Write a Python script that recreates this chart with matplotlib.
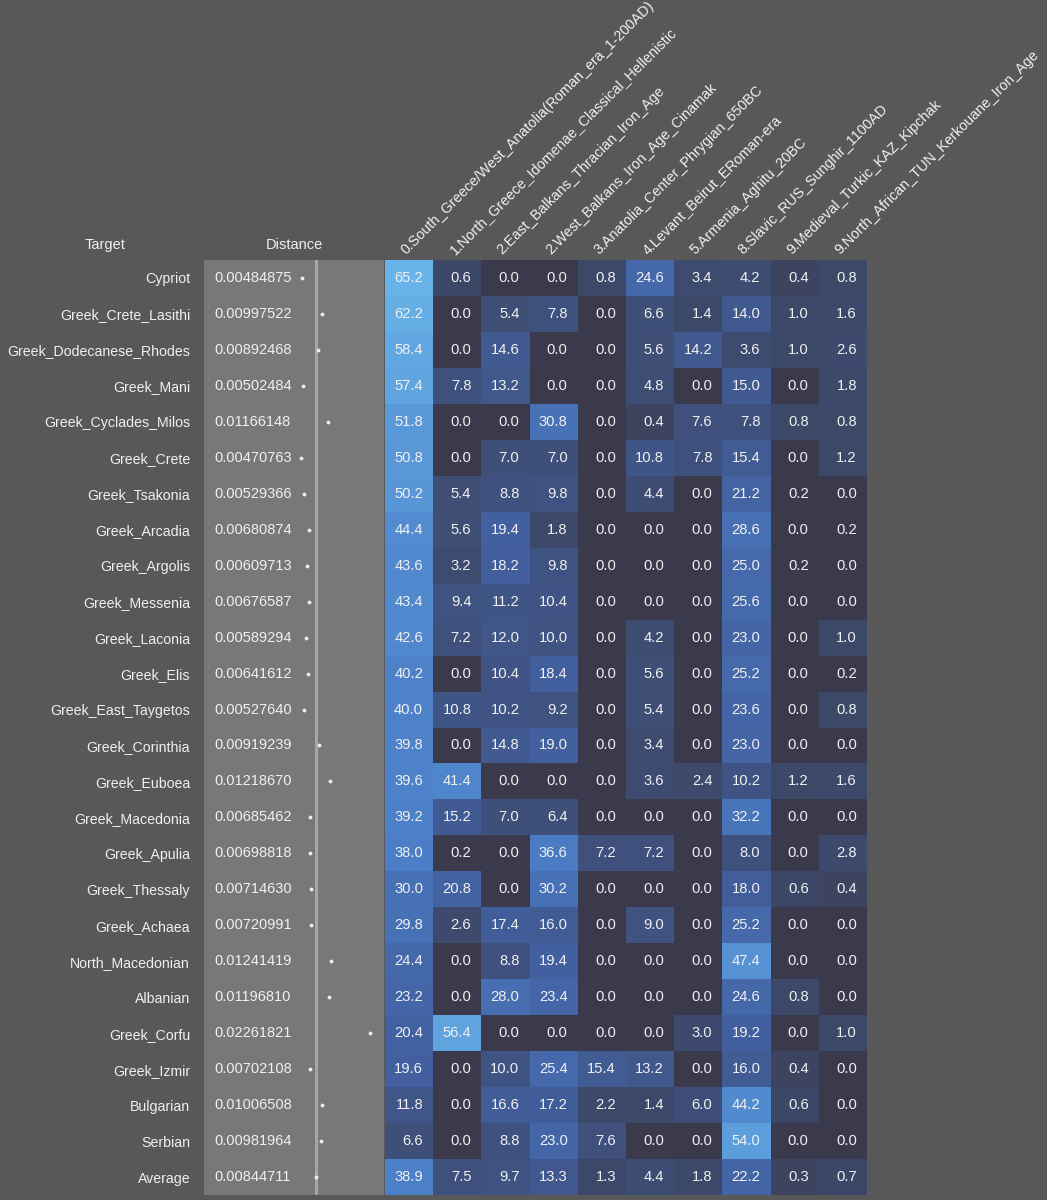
import matplotlib.pyplot as plt
import numpy as np
from matplotlib.colors import LinearSegmentedColormap

plt.rcParams['font.family'] = ['Liberation Sans', 'DejaVu Sans']

targets = ['Cypriot', 'Greek_Crete_Lasithi', 'Greek_Dodecanese_Rhodes', 'Greek_Mani',
           'Greek_Cyclades_Milos', 'Greek_Crete', 'Greek_Tsakonia', 'Greek_Arcadia',
           'Greek_Argolis', 'Greek_Messenia', 'Greek_Laconia', 'Greek_Elis',
           'Greek_East_Taygetos', 'Greek_Corinthia', 'Greek_Euboea', 'Greek_Macedonia',
           'Greek_Apulia', 'Greek_Thessaly', 'Greek_Achaea', 'North_Macedonian',
           'Albanian', 'Greek_Corfu', 'Greek_Izmir', 'Bulgarian', 'Serbian', 'Average']

distances = [0.00484875, 0.00997522, 0.00892468, 0.00502484, 0.01166148, 0.00470763,
             0.00529366, 0.00680874, 0.00609713, 0.00676587, 0.00589294, 0.00641612,
             0.00527640, 0.00919239, 0.01218670, 0.00685462, 0.00698818, 0.00714630,
             0.00720991, 0.01241419, 0.01196810, 0.02261821, 0.00702108, 0.01006508,
             0.00981964, 0.00844711]

sources = ['0.South_Greece/West_Anatolia(Roman_era_1-200AD)',
           '1.North_Greece_Idomenae_Classical_Hellenistic',
           '2.East_Balkans_Thracian_Iron_Age',
           '2.West_Balkans_Iron_Age_Cinamak',
           '3.Anatolia_Center_Phrygian_650BC',
           '4.Levant_Beirut_ERoman-era',
           '5.Armenia_Aghitu_20BC',
           '8.Slavic_RUS_Sunghir_1100AD',
           '9.Medieval_Turkic_KAZ_Kipchak',
           '9.North_African_TUN_Kerkouane_Iron_Age']

south_greece = [65.2, 62.2, 58.4, 57.4, 51.8, 50.8, 50.2, 44.4, 43.6, 43.4, 42.6, 40.2, 40.0,
                39.8, 39.6, 39.2, 38.0, 30.0, 29.8, 24.4, 23.2, 20.4, 19.6, 11.8, 6.6, 38.9]
north_greece = [0.6, 0.0, 0.0, 7.8, 0.0, 0.0, 5.4, 5.6, 3.2, 9.4, 7.2, 0.0, 10.8,
                0.0, 41.4, 15.2, 0.2, 20.8, 2.6, 0.0, 0.0, 56.4, 0.0, 0.0, 0.0, 7.5]
east_balkans = [0.0, 5.4, 14.6, 13.2, 0.0, 7.0, 8.8, 19.4, 18.2, 11.2, 12.0, 10.4, 10.2,
                14.8, 0.0, 7.0, 0.0, 0.0, 17.4, 8.8, 28.0, 0.0, 10.0, 16.6, 8.8, 9.7]
west_balkans = [0.0, 7.8, 0.0, 0.0, 30.8, 7.0, 9.8, 1.8, 9.8, 10.4, 10.0, 18.4, 9.2,
                19.0, 0.0, 6.4, 36.6, 30.2, 16.0, 19.4, 23.4, 0.0, 25.4, 17.2, 23.0, 13.3]
anatolia = [0.8, 0.0, 0.0, 0.0, 0.0, 0.0, 0.0, 0.0, 0.0, 0.0, 0.0, 0.0, 0.0,
            0.0, 0.0, 0.0, 7.2, 0.0, 0.0, 0.0, 0.0, 0.0, 15.4, 2.2, 7.6, 1.3]
levant = [24.6, 6.6, 5.6, 4.8, 0.4, 10.8, 4.4, 0.0, 0.0, 0.0, 4.2, 5.6, 5.4,
          3.4, 3.6, 0.0, 7.2, 0.0, 9.0, 0.0, 0.0, 0.0, 13.2, 1.4, 0.0, 4.4]
armenia = [3.4, 1.4, 14.2, 0.0, 7.6, 7.8, 0.0, 0.0, 0.0, 0.0, 0.0, 0.0, 0.0,
           0.0, 2.4, 0.0, 0.0, 0.0, 0.0, 0.0, 0.0, 3.0, 0.0, 6.0, 0.0, 1.8]
slavic = [4.2, 14.0, 3.6, 15.0, 7.8, 15.4, 21.2, 28.6, 25.0, 25.6, 23.0, 25.2, 23.6,
          23.0, 10.2, 32.2, 8.0, 18.0, 25.2, 47.4, 24.6, 19.2, 16.0, 44.2, 54.0, 22.2]
turkic = [0.4, 1.0, 1.0, 0.0, 0.8, 0.0, 0.2, 0.0, 0.2, 0.0, 0.0, 0.0, 0.0,
          0.0, 1.2, 0.0, 0.0, 0.6, 0.0, 0.0, 0.8, 0.0, 0.4, 0.6, 0.0, 0.3]
north_african = [0.8, 1.6, 2.6, 1.8, 0.8, 1.2, 0.0, 0.2, 0.0, 0.0, 1.0, 0.2, 0.8,
                 0.0, 1.6, 0.0, 2.8, 0.4, 0.0, 0.0, 0.0, 1.0, 0.0, 0.0, 0.0, 0.7]

values = np.column_stack([south_greece, north_greece, east_balkans, west_balkans, anatolia,
                          levant, armenia, slavic, turkic, north_african])
n_rows, n_cols = values.shape

bg = '#585858'
txt = '#f0f0f0'
cmap = LinearSegmentedColormap.from_list('anc', [
    (0.0, '#3a3a4c'), (0.005, '#3c4766'), (0.3, '#4260a0'),
    (0.6, '#4c80c8'), (1.0, '#68b4ea')])

fig = plt.figure(figsize=(10.47, 12), dpi=100, facecolor=bg)
W, H = 1047, 1200

# heatmap
ax = fig.add_axes([385 / W, 1 - 1195 / H, 482 / W, 935 / H])
ax.pcolormesh(np.arange(n_cols + 1), np.arange(n_rows + 1), values,
              cmap=cmap, vmin=0, vmax=values.max())
ax.set_xlim(0, n_cols)
ax.set_ylim(n_rows, 0)
ax.axis('off')
for i in range(n_rows):
    for j in range(n_cols):
        ax.text(j + 0.79, i + 0.5, f'{values[i, j]:.1f}', ha='right', va='center',
                color=txt, fontsize=10.6)
for j, name in enumerate(sources):
    ax.text(j + 0.44, -0.15, name, rotation=45, rotation_mode='anchor',
            ha='left', va='baseline', color=txt, fontsize=10.35)

# distance column
dax = fig.add_axes([204 / W, 1 - 1195 / H, 180 / W, 935 / H])
dax.set_facecolor('#787878')
rows = np.arange(n_rows) + 0.5
dax.set_xlim(-0.02075, 0.02629)
dax.set_ylim(n_rows, 0)
dax.axvline(distances[-1], color='#a6a6a6', lw=2.2)
dax.scatter(distances, rows, s=3, color='#f0f0f0', zorder=3)
for y, d in zip(rows, distances):
    dax.text(0.06, y, f'{d:.8f}', transform=dax.get_yaxis_transform(),
             ha='left', va='center', color=txt, fontsize=10.5)
dax.set_xticks([])
dax.set_yticks(rows)
dax.set_yticklabels(targets, color=txt, fontsize=10.2)
dax.tick_params(axis='y', length=0, pad=10)
for s in dax.spines.values():
    s.set_visible(False)

fig.text(105 / W, 1 - 245 / H, 'Target', ha='center', va='center', color=txt, fontsize=10.5)
fig.text(294 / W, 1 - 245 / H, 'Distance', ha='center', va='center', color=txt, fontsize=10.5)

fig.savefig('out.png', dpi=100, facecolor=bg)
